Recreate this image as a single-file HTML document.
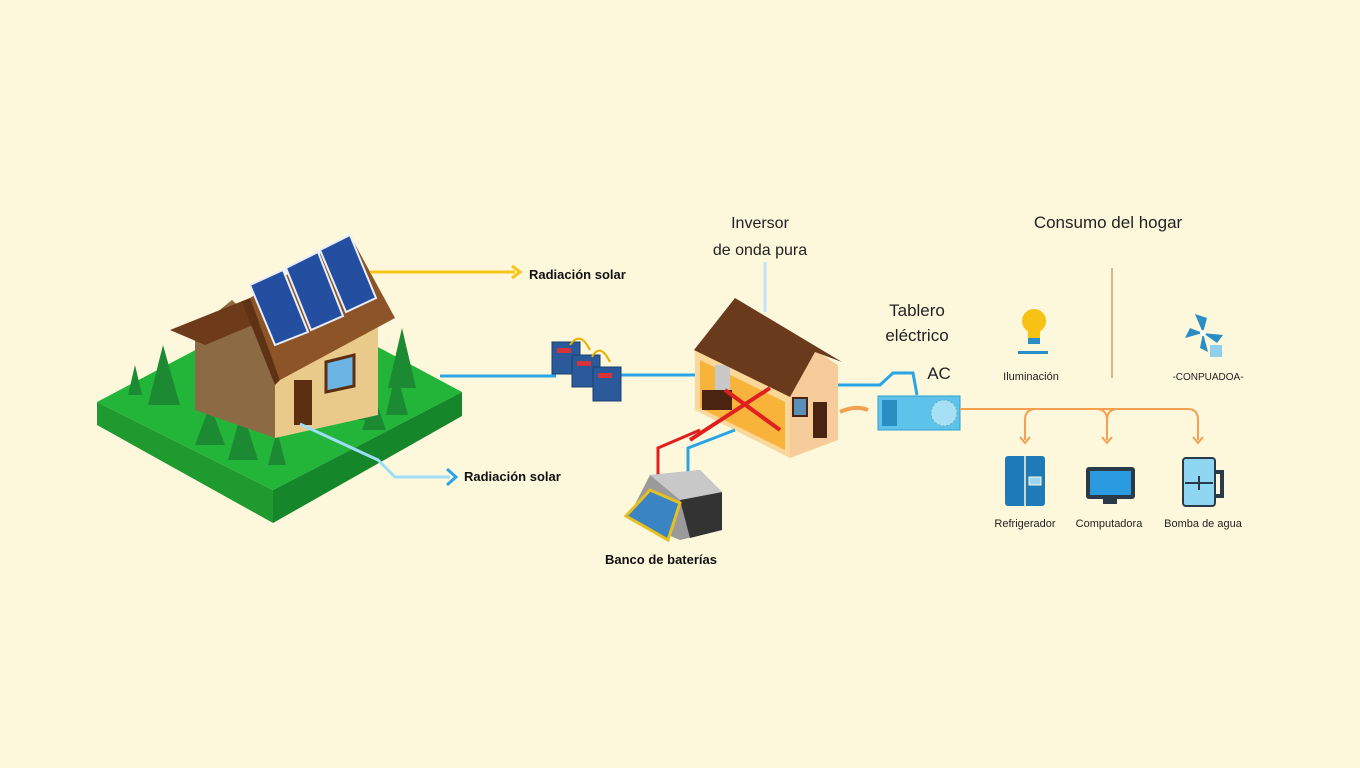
<!DOCTYPE html>
<html><head><meta charset="utf-8"><style>
html,body{margin:0;padding:0;background:#fdf8dc;}
svg{display:block}
text{font-family:"Liberation Sans",sans-serif;}
</style></head><body>
<svg width="1360" height="768" viewBox="0 0 1360 768" xmlns="http://www.w3.org/2000/svg">
<rect width="1360" height="768" fill="#fdf8dc"/>
<!-- island -->
<polygon points="97,402 273,490 273,523 97,425" fill="#1f9a2e"/>
<polygon points="273,490 462,392 462,416 273,523" fill="#16862a"/>
<polygon points="97,402 290,300 462,392 273,490" fill="#22b53a"/>
<!-- trees -->
<g fill="#1c8a32">
<polygon points="135,365 128,395 142,395"/><polygon points="163,345 148,405 180,405"/>
<polygon points="210,405 195,445 225,445"/><polygon points="242,410 228,460 258,460"/>
<polygon points="277,430 268,465 286,465"/><polygon points="402,328 388,388 416,388"/>
<polygon points="396,370 386,415 408,415"/><polygon points="374,395 362,430 386,430"/>
<polygon points="362,395 355,420 370,420"/>
</g>
<!-- house walls -->
<polygon points="195,330 232,300 275,340 275,438 195,410" fill="#8c6a44"/>
<polygon points="275,345 378,320 378,415 275,438" fill="#e9ca8a"/>
<rect x="294" y="380" width="18" height="45" fill="#5c2e12"/>
<polygon points="326,362 354,355 354,386 326,392" fill="#6cb4e4" stroke="#5c2e12" stroke-width="3"/>
<!-- roof -->
<polygon points="170,330 250,298 265,320 205,345" fill="#6e3b1a"/>
<polygon points="250,298 350,235 395,318 280,380" fill="#8d5427"/>
<polygon points="250,298 280,380 275,385 242,302" fill="#5e3214"/>
<!-- panels -->
<g fill="#244fa0" stroke="#e8eef8" stroke-width="2">
<polygon points="250,285 283,270 308,332 275,345"/>
<polygon points="286,268 318,252 343,316 311,330"/>
<polygon points="320,250 350,235 376,298 346,312"/>
</g>
<!-- connectors -->
<polyline points="370,272 515,272" fill="none" stroke="#f5c518" stroke-width="3"/>
<polyline points="512,266 520,272 512,278" fill="none" stroke="#f5c518" stroke-width="3"/>
<text x="529" y="279" font-size="13" font-weight="bold" fill="#111">Radiación solar</text>
<polyline points="300,424 378,460 395,477 450,477" fill="none" stroke="#9fdcf5" stroke-width="3"/>
<polyline points="447,469 456,477 447,485" fill="none" stroke="#29a4e6" stroke-width="3"/>
<text x="464" y="481" font-size="13" font-weight="bold" fill="#111">Radiación solar</text>
<polyline points="440,376 556,376" fill="none" stroke="#29a4e6" stroke-width="3"/>
<polyline points="620,375 696,375" fill="none" stroke="#29a4e6" stroke-width="3"/>
<!-- batteries -->
<g fill="#2a5a9a" stroke="#1c3f70">
<rect x="552" y="342" width="28" height="32"/><rect x="572" y="355" width="28" height="32"/><rect x="593" y="367" width="28" height="34"/>
</g>
<g fill="#d8323a"><rect x="557" y="348" width="14" height="5"/><rect x="577" y="361" width="14" height="5"/><rect x="598" y="373" width="14" height="5"/></g>
<path d="M570 345 Q580 330 590 350 M592 357 Q600 342 610 362" fill="none" stroke="#e5b000" stroke-width="2"/>
<!-- middle house -->
<polygon points="695,348 790,395 790,458 695,410" fill="#fbd79a"/>
<polygon points="700,360 785,402 785,450 700,408" fill="#f7b33a"/>
<rect x="702" y="390" width="30" height="20" fill="#4a2410"/>
<rect x="715" y="365" width="15" height="25" fill="#c8c8c8"/>
<line x1="725" y1="390" x2="780" y2="430" stroke="#e0201e" stroke-width="4"/>
<line x1="770" y1="388" x2="690" y2="440" stroke="#e0201e" stroke-width="4"/>
<polygon points="790,395 815,350 838,365 838,440 790,458" fill="#f6cd9a"/>
<rect x="793" y="398" width="14" height="18" fill="#5c8fb8" stroke="#4a2410" stroke-width="2"/>
<rect x="813" y="402" width="14" height="36" fill="#4a2410"/>
<polygon points="694,350 735,298 842,362 815,352 790,397" fill="#6a3a1c"/>
<line x1="765" y1="262" x2="765" y2="312" stroke="#bfe3f5" stroke-width="3"/>
<!-- battery bank box -->
<polyline points="700,430 658,448 658,475" fill="none" stroke="#e0201e" stroke-width="3"/>
<polyline points="735,430 688,448 688,475" fill="none" stroke="#29a4e6" stroke-width="3"/>
<polygon points="650,475 700,470 722,492 722,530 680,540 628,518" fill="#9a9a9a"/>
<polygon points="680,500 722,492 722,530 690,538" fill="#333"/>
<polygon points="650,475 700,470 722,492 680,500" fill="#c8c8c8"/>
<polygon points="626,516 650,490 680,503 668,540" fill="#3b84c4" stroke="#e5c020" stroke-width="3"/>
<text x="605" y="564" font-size="13" font-weight="bold" fill="#111">Banco de baterías</text>
<!-- top labels -->
<text x="760" y="228" font-size="16" text-anchor="middle" fill="#222">Inversor</text>
<text x="760" y="255" font-size="16" text-anchor="middle" fill="#222">de onda pura</text>
<text x="1108" y="228" font-size="17" text-anchor="middle" fill="#222">Consumo del hogar</text>
<text x="917" y="316" font-size="17" text-anchor="middle" fill="#222">Tablero</text>
<text x="917" y="341" font-size="17" text-anchor="middle" fill="#222">eléctrico</text>
<text x="939" y="379" font-size="17" text-anchor="middle" fill="#222">AC</text>
<!-- AC panel -->
<polyline points="838,385 880,385 893,373 913,373 917,395" fill="none" stroke="#29a4e6" stroke-width="3"/>
<rect x="878" y="396" width="82" height="34" fill="#5ec3ea" stroke="#2f9fd0"/>
<rect x="882" y="400" width="15" height="26" fill="#2a8ec4"/>
<circle cx="944" cy="413" r="13" fill="#a7e0f5" stroke="#6aa" stroke-dasharray="2 2"/>
<path d="M840 412 Q855 405 868 410" fill="none" stroke="#f4a050" stroke-width="4"/>
<!-- orange distribution -->
<path d="M960 409 H1188 Q1198 409 1198 420 V440" fill="none" stroke="#f4a050" stroke-width="2"/>
<path d="M1025 440 V420 Q1025 409 1036 409 M1107 440 V420 Q1107 409 1096 409 M1107 420 Q1107 409 1118 409" fill="none" stroke="#f4a050" stroke-width="2"/>
<g fill="none" stroke="#f4a050" stroke-width="2"><polyline points="1020,437 1025,443 1030,437"/><polyline points="1102,437 1107,443 1112,437"/><polyline points="1193,437 1198,443 1203,437"/></g>
<line x1="1112" y1="268" x2="1112" y2="378" stroke="#d4b98a" stroke-width="2"/>
<!-- bulb -->
<circle cx="1034" cy="321" r="12" fill="#f7c213"/>
<rect x="1028" y="328" width="12" height="12" fill="#f7c213"/>
<rect x="1028" y="338" width="12" height="6" fill="#2a8ec4"/>
<rect x="1018" y="351" width="30" height="3" fill="#2a8ec4"/>
<text x="1031" y="380" font-size="11" text-anchor="middle" fill="#222">Iluminación</text>
<!-- fan -->
<g fill="#2a8ec4"><polygon points="1203,333 1195,314 1207,318"/><polygon points="1203,333 1223,335 1217,343"/><polygon points="1203,333 1185,338 1190,328"/><polygon points="1203,333 1208,352 1200,348"/></g>
<circle cx="1203" cy="333" r="3" fill="#fff"/>
<rect x="1210" y="345" width="12" height="12" fill="#8fd0ef"/>
<text x="1208" y="380" font-size="10" text-anchor="middle" fill="#222">-CONPUADOA-</text>
<!-- fridge -->
<rect x="1005" y="456" width="40" height="50" rx="3" fill="#1f7ab8"/>
<line x1="1025" y1="456" x2="1025" y2="506" stroke="#fdf8dc" stroke-width="1.5"/>
<rect x="1029" y="477" width="12" height="8" fill="#9bd6f0" stroke="#fdf8dc"/>
<text x="1025" y="527" font-size="11" text-anchor="middle" fill="#222">Refrigerador</text>
<!-- computer -->
<rect x="1086" y="467" width="49" height="32" rx="3" fill="#2a3a48"/>
<rect x="1090" y="471" width="41" height="24" fill="#2a9be0"/>
<rect x="1103" y="499" width="14" height="5" fill="#2a3a48"/>
<text x="1109" y="527" font-size="11" text-anchor="middle" fill="#222">Computadora</text>
<!-- pump -->
<rect x="1183" y="458" width="32" height="48" rx="3" fill="#8fd6f2" stroke="#2a3a48" stroke-width="2"/>
<path d="M1215 472 H1222 V496 H1215" fill="none" stroke="#2a3a48" stroke-width="4"/>
<line x1="1185" y1="483" x2="1213" y2="483" stroke="#2a3a48" stroke-width="2"/>
<line x1="1199" y1="476" x2="1199" y2="490" stroke="#2a3a48" stroke-width="2"/>
<text x="1203" y="527" font-size="11" text-anchor="middle" fill="#222">Bomba de agua</text>
</svg>
</body></html>
